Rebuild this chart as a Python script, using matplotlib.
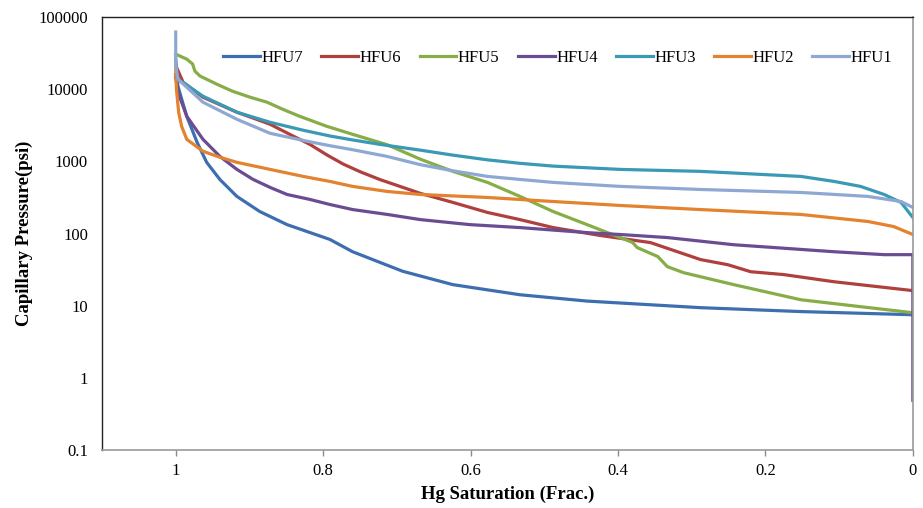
import matplotlib
matplotlib.use("Agg")
import matplotlib.pyplot as plt

plt.rcParams['font.family'] = ['Liberation Serif', 'DejaVu Serif']

# Hg saturation (frac.) and capillary pressure (psi) per flow unit
hfu7_s = [1.0, 0.997, 0.985, 0.971, 0.958, 0.940, 0.917, 0.886, 0.849, 0.791, 0.760,
          0.692, 0.624, 0.533, 0.442, 0.288, 0.152, 0.0]
hfu7_p = [26000, 11000, 4200, 1840, 970, 560, 327, 202, 133, 83, 56,
          30, 19.6, 14.2, 11.6, 9.4, 8.3, 7.5]

hfu6_s = [0.999, 0.990, 0.963, 0.917, 0.872, 0.841, 0.818, 0.795, 0.773, 0.750, 0.723,
          0.668, 0.624, 0.577, 0.533, 0.488, 0.424, 0.356, 0.288, 0.251, 0.220, 0.175,
          0.107, 0.0]
hfu6_p = [20200, 12500, 7740, 4800, 3270, 2250, 1720, 1230, 920, 720, 560,
          360, 270, 196, 156, 121, 94, 75, 43.6, 37, 29.6, 27,
          21.5, 16.2]

hfu5_s = [1.0, 0.985, 0.977, 0.974, 0.967, 0.944, 0.923, 0.899, 0.876, 0.855, 0.832,
          0.795, 0.760, 0.713, 0.668, 0.624, 0.577, 0.533, 0.488, 0.442, 0.397, 0.380,
          0.374, 0.346, 0.333, 0.311, 0.243, 0.152, 0.0]
hfu5_p = [30600, 26100, 22300, 17800, 15200, 11700, 9380, 7740, 6600, 5280, 4220,
          3060, 2370, 1700, 1070, 727, 511, 327, 202, 133, 88, 75,
          64, 48, 34.8, 28.7, 19.6, 12.1, 8.0]

hfu4_s = [1.0, 0.997, 0.985, 0.963, 0.940, 0.917, 0.895, 0.872, 0.849, 0.818, 0.791,
          0.760, 0.713, 0.668, 0.601, 0.533, 0.442, 0.397, 0.333, 0.243, 0.107, 0.039,
          0.0, 0.0]
hfu4_p = [14700, 9090, 4220, 2020, 1170, 774, 562, 436, 348, 297, 253,
          215, 184, 156, 133, 121, 103, 97, 88, 70, 56, 51,
          51, 0.49]

hfu3_s = [1.0, 0.997, 0.963, 0.917, 0.872, 0.827, 0.791, 0.760, 0.723, 0.668, 0.624,
          0.577, 0.533, 0.488, 0.397, 0.288, 0.152, 0.107, 0.071, 0.039, 0.016, 0.0]
hfu3_p = [16000, 13800, 8000, 4800, 3480, 2700, 2250, 1980, 1720, 1430, 1220,
          1050, 940, 860, 774, 727, 619, 528, 450, 348, 270, 167]

hfu2_s = [1.0, 0.999, 0.996, 0.992, 0.985, 0.963, 0.940, 0.917, 0.872, 0.827, 0.791,
          0.760, 0.713, 0.668, 0.577, 0.488, 0.397, 0.288, 0.152, 0.061, 0.026, 0.0]
hfu2_p = [19000, 10000, 4800, 3060, 2020, 1380, 1140, 970, 774, 619, 528,
          450, 383, 348, 316, 278, 245, 215, 184, 147, 125, 97]

hfu1_s = [1.0, 1.0, 0.997, 0.963, 0.917, 0.872, 0.827, 0.791, 0.760, 0.713, 0.668,
          0.624, 0.577, 0.533, 0.488, 0.397, 0.288, 0.152, 0.061, 0.016, 0.0]
hfu1_p = [62000, 22200, 13800, 6600, 3830, 2450, 1950, 1650, 1450, 1170, 900,
          740, 619, 562, 511, 450, 408, 371, 327, 278, 230]

labels = ['HFU7', 'HFU6', 'HFU5', 'HFU4', 'HFU3', 'HFU2', 'HFU1']
colors = ['#3D6FB0', '#B0403D', '#86AD47', '#6A4C93', '#3A9AB5', '#E3822F', '#8EA8D4']
series = [(hfu7_s, hfu7_p), (hfu6_s, hfu6_p), (hfu5_s, hfu5_p), (hfu4_s, hfu4_p),
          (hfu3_s, hfu3_p), (hfu2_s, hfu2_p), (hfu1_s, hfu1_p)]

y_ticks = [0.1, 1, 10, 100, 1000, 10000, 100000]
y_tick_labels = ['0.1', '1', '10', '100', '1000', '10000', '100000']
x_ticks = [1, 0.8, 0.6, 0.4, 0.2, 0]
x_tick_labels = ['1', '0.8', '0.6', '0.4', '0.2', '0']

fig = plt.figure(figsize=(9.23, 5.08), dpi=100)
ax = fig.add_axes([0.1105, 0.114, 0.8785, 0.8525])

for (s, p), lab, col in zip(series, labels, colors):
    ax.plot(s, p, color=col, linewidth=2.3, label=lab, solid_joinstyle='round')

ax.set_yscale('log')
ax.set_ylim(0.1, 100000)
ax.set_xlim(1.1, 0)
ax.set_yticks(y_ticks)
ax.set_yticklabels(y_tick_labels)
ax.minorticks_off()
ax.set_xticks(x_ticks)
ax.set_xticklabels(x_tick_labels)

ax.tick_params(axis='y', length=0, pad=10, labelsize=12)
ax.tick_params(axis='x', length=4, width=1, color='#8c8c8c', direction='out',
               pad=5, labelsize=12)

for side in ['top', 'left']:
    ax.spines[side].set_color('#222222')
    ax.spines[side].set_linewidth(1.0)
for side in ['bottom', 'right']:
    ax.spines[side].set_color('#9a9a9a')
    ax.spines[side].set_linewidth(1.2)

ax.set_xlabel('Hg Saturation (Frac.)', fontsize=13.5, fontweight='bold', labelpad=5)
ax.set_ylabel('Capillary Pressure(psi)', fontsize=13.5, fontweight='bold', labelpad=4)

ax.legend(loc='center', bbox_to_anchor=(0.562, 0.905), ncol=7, frameon=False,
          fontsize=12, handlelength=2.2, handletextpad=0.1, columnspacing=1.1)

fig.savefig('out.png', dpi=100)
